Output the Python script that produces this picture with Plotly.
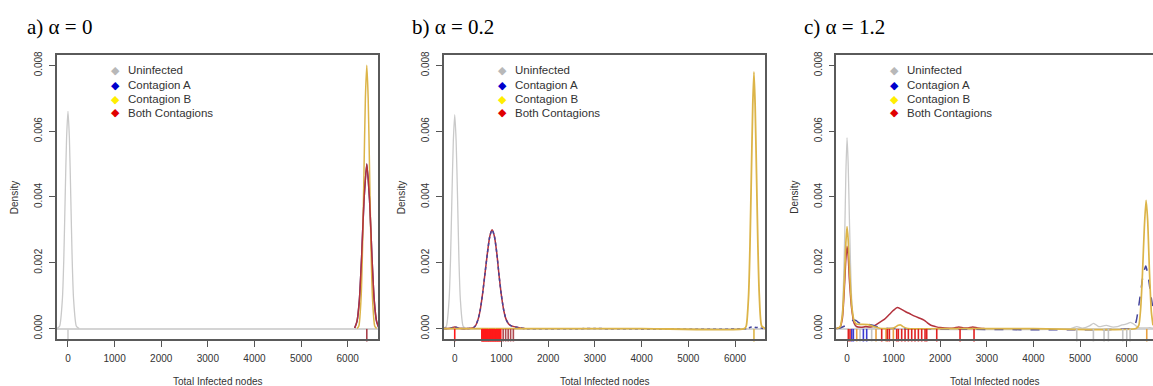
import plotly.graph_objects as go

# ---------------- data ----------------
x_tick_vals = [0, 1000, 2000, 3000, 4000, 5000, 6000]
x_tick_text = ["0", "1000", "2000", "3000", "4000", "5000", "6000"]
y_tick_vals = [0.0, 0.002, 0.004, 0.006, 0.008]
y_tick_text = ["0.000", "0.002", "0.004", "0.006", "0.008"]
legend_labels = ["Uninfected", "Contagion A", "Contagion B", "Both Contagions"]
panel_titles = ["a) α = 0", "b) α = 0.2", "c) α = 1.2"]

# panel a (alpha = 0)
a_unin_x = [-240, -180, -120, -90, -60, -30, 0, 30, 60, 90, 120, 180, 240]
a_unin_y = [0, 0.00007, 0.0009, 0.0021, 0.0040, 0.0058, 0.0066, 0.0058, 0.0040, 0.0021, 0.0009, 0.00007, 0]
a_B_x = [6200, 6240, 6290, 6320, 6350, 6380, 6410, 6440, 6470, 6500, 6530, 6580, 6620]
a_B_y = [0, 0.00008, 0.001, 0.0025, 0.0048, 0.0070, 0.0080, 0.0070, 0.0048, 0.0025, 0.001, 0.00008, 0]
a_A_x = [6150, 6200, 6250, 6300, 6350, 6410, 6470, 6520, 6570, 6620, 6670]
a_A_y = [0.00002, 0.00022, 0.00085, 0.0022, 0.0039, 0.0050, 0.0039, 0.0022, 0.00085, 0.00022, 0.00002]
a_both_x = [6150, 6200, 6250, 6300, 6350, 6410, 6470, 6520, 6570, 6620, 6670]
a_both_y = [0.00002, 0.00022, 0.00085, 0.0022, 0.0039, 0.0050, 0.0039, 0.0022, 0.00085, 0.00022, 0.00002]
a_rug_unin = [0]
a_rug_both = [6410]

# panel b (alpha = 0.2)
b_unin_x = [-240, -180, -120, -90, -60, -30, 0, 30, 60, 90, 120, 180, 240]
b_unin_y = [0, 0.00007, 0.0009, 0.0021, 0.0040, 0.0057, 0.0065, 0.0057, 0.0040, 0.0021, 0.0009, 0.00007, 0]
b_B_x = [-236, 2000, 4000, 6200, 6240, 6290, 6320, 6350, 6380, 6405, 6430, 6460, 6490, 6520, 6570, 6648]
b_B_y = [0, 0, 0, 0, 0.00008, 0.001, 0.0025, 0.0047, 0.0068, 0.0078, 0.0068, 0.0047, 0.0025, 0.001, 0.00008, 0]
b_both_x = [-236, -100, 0, 100, 250, 400, 450, 500, 550, 600, 650, 700, 750, 800, 850, 900, 950,
            1000, 1050, 1100, 1150, 1200, 1300, 1400, 1500]
b_both_y = [0, 0.00001, 0.00005, 0.00001, 0, 0.00003, 0.0001, 0.00028, 0.0006, 0.0011, 0.0017, 0.0023,
            0.0028, 0.0030, 0.0028, 0.0023, 0.0016, 0.0010, 0.00055, 0.00028, 0.00015, 0.00009,
            0.00005, 0.00002, 0]
b_A_x = [-236, -100, 0, 100, 250, 400, 450, 500, 550, 600, 650, 700, 750, 800, 850, 900, 950,
         1000, 1050, 1100, 1150, 1200, 1300, 1400, 1500, 3000, 6250, 6330, 6400, 6450, 6500, 6580, 6648]
b_A_y = [0, 0.00001, 0.00005, 0.00001, 0, 0.00003, 0.0001, 0.00028, 0.0006, 0.0011, 0.0017, 0.0023,
         0.0028, 0.0030, 0.0028, 0.0023, 0.0016, 0.0010, 0.00055, 0.00028, 0.00015, 0.00009,
         0.00005, 0.00002, 0, 0, 0, 0.00004, 0.00005, 0.00003, 0.00004, 0.00001, 0]
b_rug_B = [6405]
b_rug_both = [0, 580, 595, 610, 625, 640, 655, 670, 685, 700, 715, 730, 745, 760, 775, 790, 805,
              820, 835, 850, 865, 880, 895, 910, 925, 940, 955, 970, 985]
b_rug_both_tail = [1037, 1090, 1144, 1196, 1255]

# panel c (alpha = 1.2)
c_unin_x = [-230, -150, -100, -50, -25, 0, 25, 50, 100, 150, 200, 300, 500, 700, 4800, 4930, 5050,
            5200, 5290, 5400, 5500, 5570, 5680, 5800, 5900, 5970, 6020, 6080, 6150, 6250, 6400,
            6500, 6565]
c_unin_y = [0, 0.00003, 0.0005, 0.0028, 0.0047, 0.0058, 0.0050, 0.0034, 0.0009, 0.00015, 0.00004,
            0.00003, 0.00003, 0, 0, 0.00006, 0.00001, 0.00008, 0.00016, 0.00006, 0.00008, 0.0001,
            0.00005, 0.00006, 0.00011, 0.00013, 0.00015, 0.00019, 0.00014, 0.00003, 0.00002,
            0.00003, 0.00001]
c_B_x = [-230, -150, -100, -50, -25, 0, 25, 50, 100, 150, 200, 300, 450, 600, 700, 800, 1000, 1100,
         1150, 1200, 1300, 2000, 4000, 6200, 6260, 6300, 6340, 6380, 6416, 6450, 6490, 6530, 6565]
c_B_y = [0, 0.00005, 0.0004, 0.0017, 0.0026, 0.0031, 0.0027, 0.0019, 0.0007, 0.00025, 0.00014,
         0.00013, 0.00012, 0.00005, 0.00001, 0, 0.00002, 0.0001, 0.00011, 0.00006, 0, 0, 0, 0, 0.0001,
         0.0006, 0.0017, 0.0031, 0.0039, 0.0033, 0.0017, 0.0005, 0.0001]
c_A_x = [-230, -150, -50, 0, 50, 100, 150, 200, 250, 300, 400, 500, 600, 700, 800, 900, 1000, 6100,
         6150, 6200, 6250, 6300, 6350, 6410, 6460, 6510, 6565]
c_A_y = [0, 0.00002, 0.00008, 0.00012, 0.00017, 0.00023, 0.00026, 0.00024, 0.00018, 0.00015,
         0.00015, 0.00012, 0.00008, 0.00004, 0.00002, 0, 0, 0, 0.00005, 0.0002, 0.0006, 0.0011,
         0.0016, 0.0019, 0.0016, 0.0011, 0.0006]
c_both_x = [-230, -150, -100, -50, -25, 0, 25, 50, 100, 150, 200, 300, 400, 500, 600, 700, 800, 900,
            1000, 1080, 1150, 1250, 1350, 1450, 1550, 1650, 1720, 1800, 1900, 2000, 2200, 2300, 2400,
            2500, 2600, 2700, 2800, 2950]
c_both_y = [0, 0.00004, 0.0003, 0.0014, 0.0021, 0.0025, 0.0022, 0.0015, 0.0006, 0.00018, 0.00007,
            0.00004, 0.00006, 0.00005, 0.0001, 0.00019, 0.00028, 0.00042, 0.00056, 0.00064, 0.0006,
            0.00052, 0.00045, 0.00038, 0.00032, 0.00026, 0.00018, 0.0001, 0.00006, 0.00003, 0.00001,
            0.00002, 0.00005, 0.00002, 0.00002, 0.00005, 0.00002, 0]
c_rug_unin = [279, 529, 4929, 5286, 5515, 5608, 5916, 6002, 6073]
c_rug_A = [100, 136, 351, 422]
c_rug_B = [208, 622, 837, 994, 6431]
c_rug_both = [28, 64, 744, 866, 909, 1066, 1101, 1173, 1245, 1316, 1388, 1459, 1531, 1602, 1674,
              1710, 1925, 2425, 2725]

# ---------------- styling / layout ----------------
W, H = 1153, 386
BOX_TOP, BOX_BOT = 52, 339
Y_RANGE = [-0.000331, 0.0083]

COL_UNIN = "#c9c9c9"
COL_A = "#45459c"
COL_B = "#dcb448"
COL_BOTH = "#b3313c"
LEG_COLS = ["#b8b8b8", "#0000cc", "#ffee00", "#e00000"]
RUG_Y = -0.0002

panels = [
    dict(dom=[56.7, 378.3], xr=[-242, 6657], right=True,
         unin=(a_unin_x, a_unin_y), B=(a_B_x, a_B_y), A=(a_A_x, a_A_y), both=(a_both_x, a_both_y),
         a_dash="solid", b_width=1.5, order=["unin", "A", "B", "both"],
         rugs=[(a_rug_unin, "#cfcfcf"), (a_rug_both, "#a8404a")],
         title_x=24.5),
    dict(dom=[443.7, 765.3], xr=[-236, 6648], right=True,
         unin=(b_unin_x, b_unin_y), B=(b_B_x, b_B_y), A=(b_A_x, b_A_y), both=(b_both_x, b_both_y),
         a_dash="dot", b_width=1.8, order=["unin", "both", "A", "B"],
         rugs=[(b_rug_B, "#dcb448"), (b_rug_both, "#ff1a1a"), (b_rug_both_tail, "#b04a50")],
         title_x=410),
    dict(dom=[836.3, 1153], xr=[-230, 6565], right=False,
         unin=(c_unin_x, c_unin_y), B=(c_B_x, c_B_y), A=(c_A_x, c_A_y), both=(c_both_x, c_both_y),
         a_dash="dash", b_width=1.7, order=["unin", "both", "A", "B"],
         rugs=[(c_rug_unin, "#c4c4c4"), (c_rug_A, "#3a3ad0"), (c_rug_B, "#e8a040"),
               (c_rug_both, "#e02020")],
         title_x=801.7),
]

fig = go.Figure()
annotations = []
layout = dict(width=W, height=H, margin=dict(l=0, r=0, t=0, b=0),
              paper_bgcolor="white", plot_bgcolor="white", showlegend=False)

tick_font = dict(family="Liberation Sans, Arial", size=10, color="#333333")
ydom = [1 - BOX_BOT / H, 1 - BOX_TOP / H]

for i, p in enumerate(panels):
    n = "" if i == 0 else str(i + 1)
    xa, ya = "x" + n, "y" + n
    dom = [p["dom"][0] / W, min(1.0, p["dom"][1] / W)]
    layout["xaxis" + n] = dict(domain=dom, range=p["xr"], anchor=ya, tickvals=x_tick_vals,
                               ticktext=x_tick_text, ticks="outside", ticklen=6, tickwidth=1,
                               tickcolor="#555555", showline=True, linecolor="#5a5a5a",
                               linewidth=1.5, mirror=True, showgrid=False, zeroline=False,
                               tickfont=tick_font, ticklabelstandoff=3)
    layout["yaxis" + n] = dict(domain=ydom, range=Y_RANGE, anchor=xa, tickvals=y_tick_vals,
                               ticktext=y_tick_text, ticks="outside", ticklen=6, tickwidth=1,
                               tickcolor="#555555", showline=True, linecolor="#5a5a5a",
                               linewidth=1.5, mirror=p["right"], showgrid=False, zeroline=True,
                               zerolinecolor="#d4d4d4", zerolinewidth=1.5, tickangle=-90,
                               tickfont=tick_font, ticklabelstandoff=3)

    styles = {"unin": (COL_UNIN, 1.3, "solid"), "A": (COL_A, 1.5, p["a_dash"]),
              "B": (COL_B, p["b_width"], "solid"), "both": (COL_BOTH, 1.5, "solid")}
    for key in p["order"]:
        col, wid, dash = styles[key]
        xs, ys = p[key]
        fig.add_trace(go.Scatter(x=xs, y=ys, mode="lines", xaxis=xa, yaxis=ya,
                                 line=dict(color=col, width=wid, dash=dash,
                                           shape="spline", smoothing=0.6),
                                 hoverinfo="skip"))

    for vals, col in p["rugs"]:
        if len(vals) == 0:
            continue
        fig.add_trace(go.Scatter(x=vals, y=[RUG_Y] * len(vals), mode="markers", xaxis=xa, yaxis=ya,
                                 marker=dict(symbol="line-ns", size=9,
                                             line=dict(color=col, width=1.6)),
                                 hoverinfo="skip", cliponaxis=False))

    # panel title
    annotations.append(dict(text=panel_titles[i], xref="paper", yref="paper",
                            x=p["title_x"] / W, y=1 - 23 / H, xanchor="left", yanchor="middle",
                            showarrow=False,
                            font=dict(family="Liberation Serif, Times New Roman", size=21,
                                      color="black")))
    # axis titles
    annotations.append(dict(text="Total Infected nodes", xref=xa + " domain", yref="paper",
                            x=0.5, y=1 - 381 / H, xanchor="center", yanchor="middle",
                            showarrow=False, font=dict(family="Liberation Sans, Arial", size=10,
                                                       color="#333333")))
    annotations.append(dict(text="Density", xref="paper", yref=ya + " domain",
                            x=(p["dom"][0] - 42) / W, y=0.5, xanchor="center", yanchor="middle",
                            textangle=-90, showarrow=False,
                            font=dict(family="Liberation Sans, Arial", size=10, color="#333333")))
    # legend
    rows_px = [67, 82, 96, 110]
    for lab, col, rp in zip(legend_labels, LEG_COLS, rows_px):
        yy = 1 - rp / H
        annotations.append(dict(text="◆", xref="paper", yref="paper",
                                x=(p["dom"][0] + 58.5) / W, y=yy, xanchor="center",
                                yanchor="middle", showarrow=False,
                                font=dict(family="DejaVu Sans", size=11, color=col)))
        annotations.append(dict(text=lab, xref="paper", yref="paper",
                                x=(p["dom"][0] + 69) / W, y=yy, xanchor="left",
                                yanchor="middle", showarrow=False,
                                font=dict(family="Liberation Sans, Arial", size=11.5,
                                          color="#333333")))

layout["annotations"] = annotations
fig.update_layout(**layout)
fig.write_html("out.html")
